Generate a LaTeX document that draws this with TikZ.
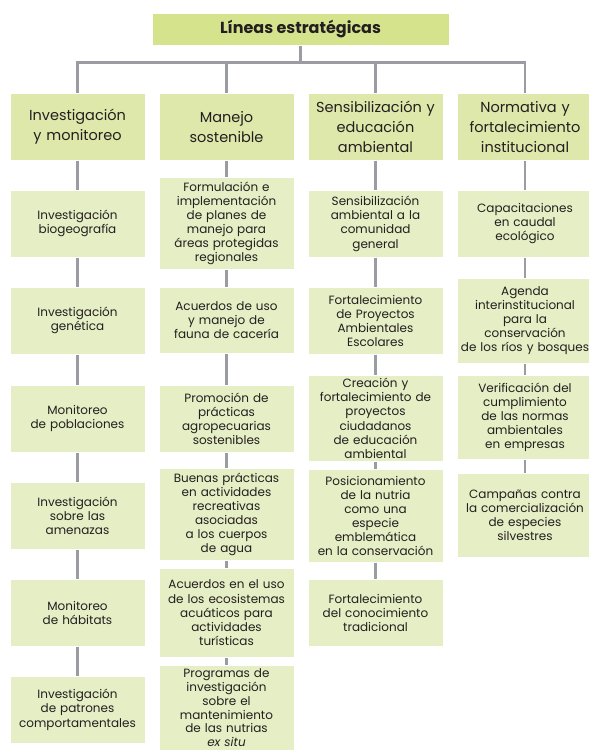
\documentclass[tikz,border=0pt]{standalone}
\usepackage{fontspec}
\setmainfont{Poppins}
\usetikzlibrary{calc}

\definecolor{verdeTitulo}{RGB}{213,227,140}
\definecolor{verdeEje}{RGB}{222,232,170}
\definecolor{verdeAccion}{RGB}{229,238,196}
\definecolor{grisLinea}{RGB}{155,156,162}
\definecolor{texto}{RGB}{35,31,32}

\tikzset{
  titulo/.style={fill=verdeTitulo,draw=white,line width=0.6pt,minimum width=297pt,minimum height=32pt,
    text=texto,font=\fontsize{16}{18}\selectfont\bfseries,anchor=north},
  eje/.style={fill=verdeEje,draw=white,line width=0.6pt,minimum width=135pt,minimum height=67pt,
    text width=145pt,align=center,inner xsep=-5pt,inner ysep=2pt,text=texto,
    font=\fontsize{14.5}{20}\selectfont,anchor=north},
  accion/.style={fill=verdeAccion,draw=white,line width=0.6pt,minimum width=135pt,
    text width=150pt,align=center,inner xsep=-7.5pt,inner ysep=1pt,text=texto,
    font=\fontsize{12}{14.1}\selectfont,anchor=north},
  conector/.style={draw=grisLinea,line width=2.6pt}
}

\begin{document}
\begin{tikzpicture}[x=1pt,y=-1pt]
    \useasboundingbox (0,0) rectangle (588,751);
    \fill[white] (0,0) rectangle (588,751);

    \node[titulo] (lineas) at (300.5,13) {Líneas estratégicas};
    \coordinate (barra) at (0,62.5);

    % ejes
    \node[eje] (inv) at (77.5,93) {Investigación\\y monitoreo};
    \node[eje] (man) at (226.5,93) {Manejo\\sostenible};
    \node[eje] (sen) at (375.5,93) {Sensibilización y\\educación\\ambiental};
    \node[eje] (nor) at (525,93) {Normativa y\\fortalecimiento\\institucional};

    % investigacion y monitoreo
    \node[accion,minimum height=67pt] (inv1) at (77.5,190) {Investigación\\biogeografía};
    \node[accion,minimum height=67pt] (inv2) at (77.5,287) {Investigación\\genética};
    \node[accion,minimum height=67pt] (inv3) at (77.5,385) {Monitoreo\\de poblaciones};
    \node[accion,minimum height=67pt] (inv4) at (77.5,482) {Investigación\\sobre las\\amenazas};
    \node[accion,minimum height=67pt] (inv5) at (77.5,579) {Monitoreo\\de hábitats};
    \node[accion,minimum height=67pt] (inv6) at (77.5,676) {Investigación\\de patrones\\comportamentales};

    % manejo sostenible
    \node[accion,minimum height=92pt] (man1) at (226.5,177) {Formulación e\\implementación\\de planes de\\manejo para\\áreas protegidas\\regionales};
    \node[accion,minimum height=66pt] (man2) at (226.5,287) {Acuerdos de uso\\y manejo de\\fauna de cacería};
    \node[accion,minimum height=67pt] (man3) at (226.5,385) {Promoción de\\prácticas\\agropecuarias\\sostenibles};
    \node[accion,minimum height=92pt] (man4) at (226.5,468) {Buenas prácticas\\en actividades\\recreativas\\asociadas\\a los cuerpos\\de agua};
    \node[accion,minimum height=89pt] (man5) at (226.5,568) {Acuerdos en el uso\\de los ecosistemas\\acuáticos para\\actividades\\turísticas};
    \node[accion,minimum height=85pt,font=\fontsize{12}{13.8}\selectfont] (man6) at (226.5,665) {Programas de\\investigación\\sobre el\\mantenimiento\\de las nutrias\\\textit{ex situ}};

    % sensibilizacion y educacion ambiental
    \node[accion,minimum height=67pt] (sen1) at (375.5,190) {Sensibilización\\ambiental a la\\comunidad\\general};
    \node[accion,minimum height=67pt] (sen2) at (375.5,287) {Fortalecimiento\\de Proyectos\\Ambientales\\Escolares};
    \node[accion,minimum height=86pt] (sen3) at (375.5,375) {Creación y\\fortalecimiento de\\proyectos\\ciudadanos\\de educación\\ambiental};
    \node[accion,minimum height=93pt] (sen4) at (375.5,469) {Posicionamiento\\de la nutria\\como una\\especie\\emblemática\\en la conservación};
    \node[accion,minimum height=67pt] (sen5) at (375.5,579) {Fortalecimiento\\del conocimiento\\tradicional};

    % normativa y fortalecimiento institucional
    \node[accion,minimum height=67pt] (nor1) at (525,190) {Capacitaciones\\en caudal\\ecológico};
    \node[accion,minimum height=85pt] (nor2) at (525,278) {Agenda\\interinstitucional\\para la\\conservación\\de los ríos y bosques};
    \node[accion,minimum height=84pt] (nor3) at (525,375) {Verificación del\\cumplimiento\\de las normas\\ambientales\\en empresas};
    \node[accion,minimum height=84pt] (nor4) at (525,473) {Campañas contra\\la comercialización\\de especies\\silvestres};

    % conectores
    \draw[conector] (lineas.south) -- (lineas.south |- barra);
    \draw[conector] (inv.north) -- (inv.north |- barra) -| (nor.north);
    \draw[conector] (man.north) -- (man.north |- barra);
    \draw[conector] (sen.north) -- (sen.north |- barra);
    \foreach \a/\b in {inv/inv1,inv1/inv2,inv2/inv3,inv3/inv4,inv4/inv5,inv5/inv6,
                       man/man1,man1/man2,man2/man3,man3/man4,man4/man5,man5/man6,
                       sen/sen1,sen1/sen2,sen2/sen3,sen3/sen4,sen4/sen5,
                       nor/nor1,nor1/nor2,nor2/nor3,nor3/nor4}
        \draw[conector] (\a.south) -- (\b.north);

\end{tikzpicture}
\end{document}
